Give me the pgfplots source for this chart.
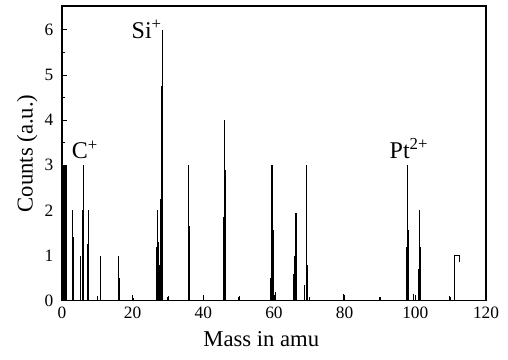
\documentclass[border=0pt]{standalone}
\usepackage{fontspec}
\setmainfont{Liberation Serif}
\usepackage{pgfplots}
\pgfplotsset{compat=1.18}
\begin{document}
\begin{tikzpicture}
\begin{axis}[
  name=ax,
  scale only axis,
  width=318pt, height=221pt,
  xmin=0, xmax=120, ymin=0, ymax=6.53,
  xtick={0,20,...,120}, minor x tick num=1,
  ytick={0,1,...,6}, minor y tick num=1,
  tick align=inside,
  major tick length=4pt, minor tick length=2.5pt,
  xtick pos=bottom, ytick pos=left,
  axis line style={line width=1.2pt},
  every tick/.style={line width=0.8pt, black},
  /pgf/number format/assume math mode=true,
  tick label style={font=\fontsize{13}{15}\selectfont},
  yticklabel style={xshift=-3pt},
  xticklabel style={yshift=-1pt},
  xlabel={Mass in amu}, ylabel={Counts (a.u.)},
  xlabel style={at={(axis description cs:0.47,-0.129)}, anchor=center, font=\fontsize{17}{19}\selectfont},
  ylabel style={at={(axis description cs:-0.082,0.5)}, rotate=0, anchor=center, font=\fontsize{17}{19}\selectfont},
  clip=false,
]
\addplot[ycomb, black, line width=0.7pt, mark=none] coordinates {
 (0.3,3.0) (0.6,3.0) (0.9,3.0) (1.2,3.0) (1.4,2.0)
 (2.9,2.0) (3.3,1.4)
 (5.3,1.0) (5.7,2.0) (6.0,3.0) (6.2,2.0)
 (7.3,1.25) (7.6,2.0)
 (9.9,0.1) (10.9,1.0)
 (15.9,1.0) (16.2,0.5)
 (20.1,0.05)
 (26.6,1.2) (26.9,2.0) (27.2,1.3) (27.5,0.8) (27.9,2.25) (28.1,4.75) (28.3,6.0) (28.5,3.15)
 (30.1,0.1)
 (35.8,3.0) (36.1,1.65)
 (40.0,0.12)
 (45.8,1.85) (46.1,4.0) (46.4,2.9)
 (50.1,0.1)
 (59.1,0.5) (59.4,3.0) (59.6,3.0) (59.8,1.57) (60.3,0.2)
 (65.4,0.6) (65.9,1.0) (66.1,1.95) (66.3,1.95) (66.5,1.2)
 (68.6,0.35) (69.1,2.0) (69.3,3.0) (69.5,0.8)
 (79.8,0.15)
 (90.0,0.07)
 (97.4,1.2) (97.7,3.0) (98.0,1.57)
 (99.6,0.15)
 (100.9,0.7) (101.2,2.0) (101.5,1.2)
 (109.8,0.1)
};
\addplot[black, line width=0.6pt, mark=none] coordinates {
 (111.0,0) (111.0,1.0) (112.4,1.0) (112.4,0.85)
};
\node[font=\fontsize{18}{20}\selectfont, anchor=base] at (axis cs:6.5,3.15) {C\textsuperscript{+}};
\node[font=\fontsize{18}{20}\selectfont, anchor=base] at (axis cs:24,5.82) {Si\textsuperscript{+}};
\node[font=\fontsize{18}{20}\selectfont, anchor=base] at (axis cs:98.2,3.16) {Pt\textsuperscript{2+}};
\end{axis}
\path ([xshift=-46.5pt,yshift=-44pt]ax.south west) rectangle ([xshift=16.5pt,yshift=4.5pt]ax.north east);
\end{tikzpicture}
\end{document}
